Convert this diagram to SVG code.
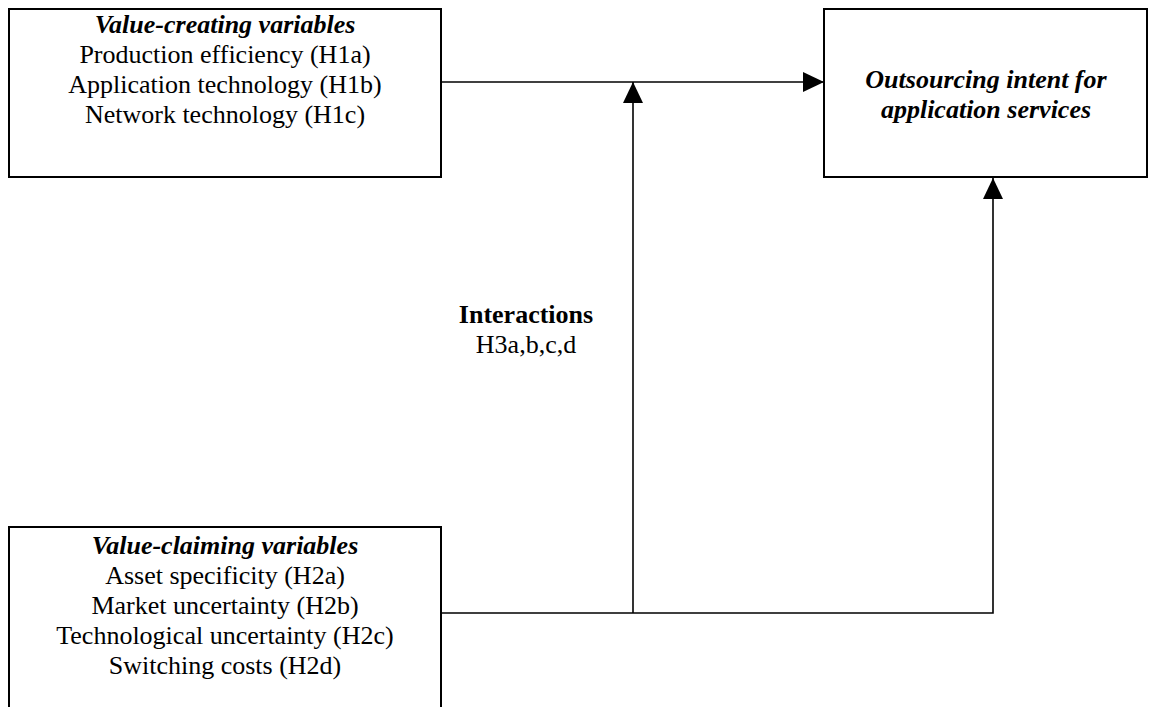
<svg xmlns="http://www.w3.org/2000/svg" width="1155" height="707" viewBox="0 0 1155 707">
<style>
.box{fill:#fff;stroke:#000;stroke-width:2}
.t{font-family:"Liberation Serif","Times New Roman",serif;font-size:26px;fill:#000;text-anchor:middle}
.bi{font-weight:bold;font-style:italic}
.b{font-weight:bold}
.c{fill:none;stroke:#000;stroke-width:1.6}
</style>
<defs>
<marker id="ah" viewBox="0 0 21 20" refX="21" refY="10" markerWidth="21" markerHeight="20" markerUnits="userSpaceOnUse" orient="auto">
<path d="M0,0 L21,10 L0,20 Z" fill="#000"/>
</marker>
</defs>
<rect width="1155" height="707" fill="#fff"/>
<g id="connectors">
<line class="c" x1="441" y1="82" x2="824" y2="82" marker-end="url(#ah)"/>
<polyline class="c" points="441,613 993,613 993,178" marker-end="url(#ah)"/>
<line class="c" x1="633" y1="613" x2="633" y2="82" marker-end="url(#ah)"/>
</g>
<g id="value-creating">
<rect class="box" x="9" y="9" width="432" height="168"/>
<text class="t bi" x="225" y="33">Value-creating variables</text>
<text class="t" x="225" y="63">Production efficiency (H1a)</text>
<text class="t" x="225" y="93">Application technology (H1b)</text>
<text class="t" x="225" y="123">Network technology (H1c)</text>
</g>
<g id="outsourcing-intent">
<rect class="box" x="824" y="9" width="323" height="168"/>
<text class="t bi" x="986" y="88">Outsourcing intent for</text>
<text class="t bi" x="986" y="118">application services</text>
</g>
<g id="value-claiming">
<rect class="box" x="9" y="527" width="432" height="200"/>
<text class="t bi" x="225" y="554">Value-claiming variables</text>
<text class="t" x="225" y="584">Asset specificity (H2a)</text>
<text class="t" x="225" y="614">Market uncertainty (H2b)</text>
<text class="t" x="225" y="644">Technological uncertainty (H2c)</text>
<text class="t" x="225" y="674">Switching costs (H2d)</text>
</g>
<g id="interactions">
<text class="t b" x="526" y="323">Interactions</text>
<text class="t" x="526" y="353">H3a,b,c,d</text>
</g>
</svg>
